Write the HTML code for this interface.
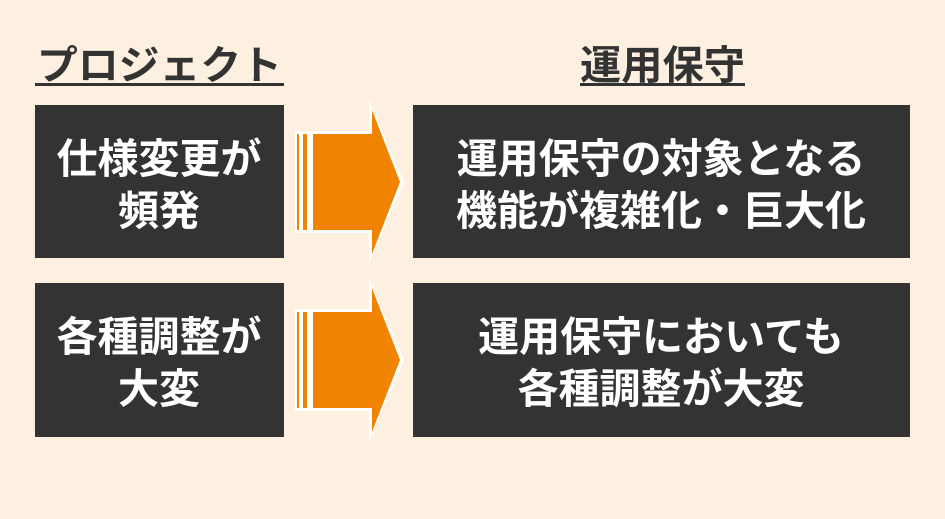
<!DOCTYPE html>
<html><head><meta charset="utf-8"><style>
body{margin:0;background:#fdf0e1;width:945px;height:519px;overflow:hidden;font-family:"Liberation Sans","Noto Sans CJK JP",sans-serif;}
svg{position:absolute;left:0;top:0}
</style></head><body>
<svg width="945" height="519" xmlns="http://www.w3.org/2000/svg" font-family="Liberation Sans, Noto Sans CJK JP, sans-serif" font-weight="bold">
<rect width="945" height="519" fill="#fdf0e1"/>
<text x="37" y="79" font-size="40" fill="#333" textLength="245" lengthAdjust="spacingAndGlyphs">プロジェクト</text>
<rect x="35" y="83" width="249" height="3" fill="#333"/>
<text x="580" y="79" font-size="40" fill="#333" textLength="165" lengthAdjust="spacingAndGlyphs">運用保守</text>
<rect x="580" y="83" width="165" height="3" fill="#333"/>
<rect x="35" y="105" width="249" height="153" fill="#333"/>
<rect x="413" y="105" width="497" height="153" fill="#333"/>
<rect x="35" y="283" width="249" height="154" fill="#333"/>
<rect x="413" y="283" width="497" height="154" fill="#333"/>
<g fill="#fff" font-size="41" text-anchor="middle">
<text x="159" y="173">仕様変更が</text><text x="159" y="225">頻発</text>
<text x="661" y="173">運用保守の対象となる</text><text x="661" y="225">機能が複雑化・巨大化</text>
<text x="159" y="351">各種調整が</text><text x="159" y="403">大変</text>
<text x="661" y="351">運用保守においても</text><text x="661" y="403">各種調整が大変</text>
</g>
<g id="a">
<polygon points="295,131 369,131 369,100 404,182 369,264 369,233 295,233" fill="#fff"/>
<polygon points="313,134 372,134 372,110 400,182 372,254 372,230 313,230" fill="#f08300"/>
<rect x="297" y="134" width="2" height="96" fill="#f08300"/>
<rect x="303" y="134" width="4" height="96" fill="#f08300"/>
</g>
<use href="#a" y="178"/>
</svg>
</body></html>
